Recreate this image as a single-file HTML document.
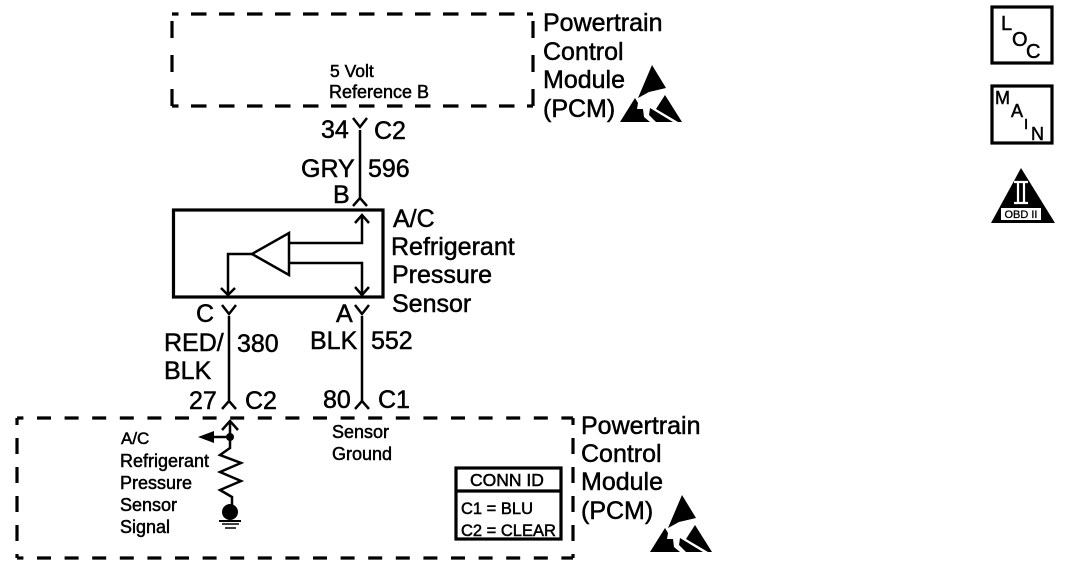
<!DOCTYPE html>
<html><head><meta charset="utf-8">
<style>
html,body{margin:0;padding:0;background:#fff}
svg{display:block}
text{font-family:"Liberation Sans",sans-serif;fill:#000;stroke:#000;stroke-width:.5}
.b{font-size:25px}
.s{font-size:18px}
</style></head><body>
<svg width="1072" height="568" viewBox="0 0 1072 568" xmlns="http://www.w3.org/2000/svg">
<g fill="none" stroke="#000" stroke-width="3.200">
<path d="M172 14H533" stroke-dasharray="15.500 12.500" stroke-dashoffset="9"/>
<path d="M172 106H533" stroke-dasharray="15.500 12.500" stroke-dashoffset="9"/>
<path d="M172 14V106" stroke-dasharray="17 17" stroke-dashoffset="27"/>
<path d="M533 14V106" stroke-dasharray="17 17" stroke-dashoffset="27"/>
<path d="M17 418H573" stroke-dasharray="14 13.600" stroke-dashoffset="7.600"/>
<path d="M17 558H573" stroke-dasharray="14 13.600" stroke-dashoffset="7.600"/>
<path d="M17 418V558" stroke-dasharray="16 13" stroke-dashoffset="9"/>
<path d="M573 418V558" stroke-dasharray="16 13" stroke-dashoffset="9"/>
<rect x="173.500" y="210" width="209.500" height="87"/>
<rect x="992" y="7" width="60" height="56"/>
<rect x="992" y="86" width="60" height="57"/>
<rect x="456" y="468" width="105" height="71"/>
<path d="M456 491H561" />
</g>
<g fill="none" stroke="#000" stroke-width="2.500">
<path d="M360 130V200M353 118L360 127L367 118M353 206L360 198L367 206"/>
<path d="M229 316V402M222 305L229 314L236 305M222 409L229 401L236 409"/>
<path d="M362 316V402M355 305L362 314L369 305M355 409L362 401L369 409"/>
<path d="M289 243H362V215M355 223L362 215L369 223"/>
<path d="M289 263H362V295M355 287L362 295L369 287"/>
<path d="M228 295V254H252M221 288L228 295L235 288"/>
<path d="M289 233V275L252 254Z"/>
<path d="M230 422V448L220 455L241 463L220 472L241 481L220 490L232 497V508M222 430L230 421L238 430"/>
<path d="M222 524H239M225 528H236" stroke-width="1.500"/>
<path d="M219 521H241" stroke-width="2"/>
<path d="M208 437H230"/>
</g>
<path d="M198 437L214 431V443Z"/>
<circle cx="230" cy="437" r="4"/>
<circle cx="230" cy="512" r="8"/>
<g transform="translate(652,65)">
<path d="M0 0L14 23L-3 27L-14 33Z"/>
<path d="M-17 33L-32 57H-2L-8 52L-9 44L-15 44L-14 38ZM13 30L30 57H26L4 44Z"/>
<path d="M-2 43L21 57H4L-3 50Z"/>
</g>
<g transform="translate(682,495)">
<path d="M0 0L14 23L-3 27L-14 33Z"/>
<path d="M-17 33L-32 57H-2L-8 52L-9 44L-15 44L-14 38ZM13 30L30 57H26L4 44Z"/>
<path d="M-2 43L21 57H4L-3 50Z"/>
</g>
<path d="M1021 168L1055 223H991Z"/>
<rect x="1001" y="208" width="40" height="12" fill="#fff"/>
<path d="M1014 182H1028M1014 203H1028M1018 183V202M1024 183V202" stroke="#fff" stroke-width="2.200" fill="none"/>
<text x="1021" y="218" text-anchor="middle" style="font-size:11px;stroke-width:.3">OBD II</text>
<text class="b" x="543" y="31">Powertrain</text>
<text class="b" x="543" y="60">Control</text>
<text class="b" x="543" y="88">Module</text>
<text class="b" x="543" y="117">(PCM)</text>
<text class="s" x="330" y="77" style="font-size:17.500px">5 Volt</text>
<text class="s" x="329" y="98">Reference B</text>
<text class="b" x="321" y="138">34</text>
<text class="b" x="374" y="139">C2</text>
<text class="b" x="301" y="177">GRY</text>
<text class="b" x="368" y="177">596</text>
<text class="b" x="333" y="203">B</text>
<text class="b" x="393" y="227">A/C</text>
<text class="b" x="391" y="255">Refrigerant</text>
<text class="b" x="392" y="283">Pressure</text>
<text class="b" x="392" y="312">Sensor</text>
<text class="b" x="196" y="322">C</text>
<text class="b" x="336" y="322">A</text>
<text class="b" x="164" y="351">RED/</text>
<text class="b" x="237" y="352">380</text>
<text class="b" x="310" y="349">BLK</text>
<text class="b" x="371" y="349">552</text>
<text class="b" x="164" y="379">BLK</text>
<text class="b" x="189" y="409">27</text>
<text class="b" x="245" y="409">C2</text>
<text class="b" x="323" y="408">80</text>
<text class="b" x="378" y="408">C1</text>
<text class="b" x="581" y="434">Powertrain</text>
<text class="b" x="581" y="462">Control</text>
<text class="b" x="581" y="490">Module</text>
<text class="b" x="581" y="519">(PCM)</text>
<text class="s" x="121" y="444" style="font-size:17px">A/C</text>
<text class="s" x="120" y="467">Refrigerant</text>
<text class="s" x="120" y="489">Pressure</text>
<text class="s" x="120" y="511">Sensor</text>
<text class="s" x="120" y="533">Signal</text>
<text class="s" x="332" y="438">Sensor</text>
<text class="s" x="332" y="460">Ground</text>
<text class="s" x="470" y="486" style="font-size:17.500px">CONN ID</text>
<text class="s" x="461" y="514" style="font-size:16.500px">C1 = BLU</text>
<text class="s" x="461" y="536" style="font-size:16.500px">C2 = CLEAR</text>
<text class="s" x="1001" y="30" style="font-size:20px">L</text>
<text class="s" x="1012" y="46" style="font-size:20px">O</text>
<text class="s" x="1026" y="58" style="font-size:20px">C</text>
<text class="s" x="995" y="104" style="font-size:18px">M</text>
<text class="s" x="1011" y="117" style="font-size:18px">A</text>
<text class="s" x="1024" y="129" style="font-size:15px">I</text>
<text class="s" x="1031" y="140" style="font-size:18px">N</text>
</svg>
</body></html>
